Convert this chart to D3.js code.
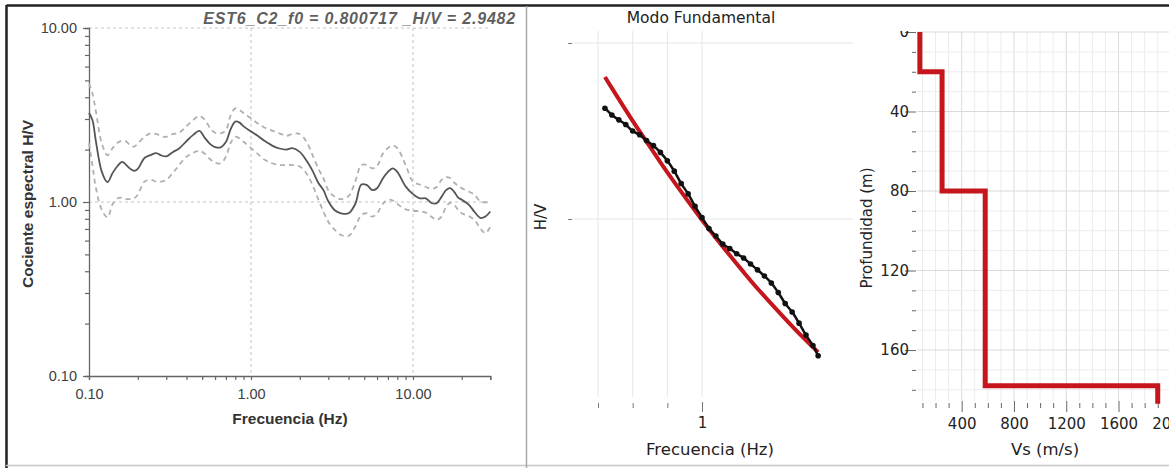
<!DOCTYPE html>
<html>
<head>
<meta charset="utf-8">
<script src="https://cdn.jsdelivr.net/npm/d3@7"></script>
<style>
  html, body { margin: 0; padding: 0; background: #fff; }
  svg { display: block; }
</style>
</head>
<body>
<svg id="chart" width="1169" height="468"></svg>
<script>
// ---- left panel: H/V spectral ratio ----
var hvFreq = [0.10, 0.105, 0.11, 0.12, 0.13, 0.14, 0.15, 0.16, 0.17, 0.18, 0.19, 0.20, 0.22, 0.24, 0.26, 0.28, 0.30, 0.33, 0.36, 0.40,
  0.44, 0.48, 0.52, 0.56, 0.60, 0.65, 0.70, 0.75, 0.80, 0.85, 0.90, 1.0, 1.1, 1.2, 1.35, 1.5, 1.65, 1.8, 2.0, 2.2,
  2.4, 2.6, 2.8, 3.0, 3.3, 3.6, 4.0, 4.4, 4.8, 5.2, 5.6, 6.0, 6.5, 7.0, 7.5, 8.0, 9.0, 10, 11, 12,
  13, 14, 15, 16, 17, 18, 19, 20, 22, 24, 26, 28, 30];
var hvMean = [3.25, 2.96, 2.27, 1.49, 1.30, 1.47, 1.61, 1.70, 1.63, 1.55, 1.51, 1.55, 1.79, 1.86, 1.91, 1.85, 1.83, 1.94, 2.03, 2.24,
  2.43, 2.56, 2.33, 2.15, 2.07, 2.06, 2.21, 2.63, 2.90, 2.86, 2.72, 2.54, 2.40, 2.26, 2.11, 2.03, 2.00, 2.04, 1.94, 1.73,
  1.51, 1.29, 1.17, 1.01, 0.894, 0.861, 0.861, 0.974, 1.26, 1.25, 1.17, 1.20, 1.36, 1.49, 1.56, 1.49, 1.23, 1.11, 1.05, 1.05,
  0.987, 0.985, 1.07, 1.17, 1.20, 1.14, 1.06, 1.03, 0.968, 0.876, 0.81, 0.825, 0.882];
var hvUpper = [4.81, 4.21, 3.38, 2.17, 1.86, 2.04, 2.19, 2.25, 2.22, 2.11, 2.08, 2.17, 2.37, 2.48, 2.46, 2.39, 2.37, 2.46, 2.50, 2.73,
  2.96, 3.12, 2.96, 2.65, 2.50, 2.48, 2.59, 3.16, 3.45, 3.38, 3.24, 3.03, 2.83, 2.69, 2.57, 2.48, 2.40, 2.46, 2.46, 2.22,
  1.86, 1.56, 1.37, 1.17, 1.07, 1.04, 1.08, 1.31, 1.63, 1.63, 1.56, 1.61, 1.89, 2.04, 2.11, 2.04, 1.63, 1.31, 1.26, 1.22,
  1.19, 1.22, 1.34, 1.39, 1.37, 1.29, 1.24, 1.20, 1.15, 1.10, 1.01, 0.996, 1.00];
var hvLower = [2.18, 1.63, 1.22, 0.90, 0.817, 0.974, 1.05, 1.06, 1.04, 1.04, 1.05, 1.10, 1.31, 1.34, 1.31, 1.31, 1.34, 1.47, 1.63, 1.82,
  1.92, 1.97, 1.89, 1.76, 1.68, 1.67, 1.82, 2.19, 2.37, 2.32, 2.22, 2.04, 1.89, 1.76, 1.67, 1.63, 1.63, 1.63, 1.60, 1.46,
  1.25, 1.04, 0.879, 0.771, 0.690, 0.646, 0.638, 0.721, 0.842, 0.861, 0.824, 0.861, 0.974, 1.03, 1.02, 0.974, 0.908, 0.891, 0.884, 0.868,
  0.824, 0.788, 0.824, 0.94, 0.99, 0.96, 0.90, 0.861, 0.831, 0.788, 0.706, 0.661, 0.721];
var hvTicks = [0.1, 1, 10];
var hvTitle = "EST6_C2_f0 = 0.800717 _H/V = 2.9482";

// ---- middle panel: fundamental mode ----
var obsFreq = [0.72, 0.74, 0.76, 0.78, 0.80, 0.82, 0.84, 0.86, 0.88, 0.90, 0.92, 0.94, 0.96, 0.98, 1.00, 1.02,
  1.04, 1.06, 1.08, 1.10, 1.12, 1.14, 1.16, 1.18, 1.20, 1.22, 1.24, 1.26, 1.28, 1.30, 1.32, 1.335];
var obsHV = [4.26, 3.90, 3.66, 3.44, 3.16, 3.01, 2.79, 2.61, 2.39, 2.14, 1.87, 1.59, 1.39, 1.18, 1.02, 0.883,
  0.800, 0.721, 0.680, 0.635, 0.600, 0.555, 0.514, 0.474, 0.433, 0.382, 0.331, 0.296, 0.256, 0.219, 0.191, 0.167];
var fitFreq = [0.72, 0.76, 0.80, 0.84, 0.88, 0.92, 0.96, 1.00, 1.04, 1.08, 1.12, 1.16, 1.20, 1.24, 1.28, 1.32, 1.335];
var fitHV = [6.41, 4.80, 3.61, 2.75, 2.10, 1.62, 1.26, 0.987, 0.780, 0.622, 0.499, 0.403, 0.330, 0.271, 0.224, 0.187, 0.175];
var modeFreqTicks = [0.7, 0.8, 0.9, 1];
var modeHVTicks = [1, 10];

// ---- right panel: Vs profile ----
var layerVs = [80, 250, 580, 1900];
var layerTop = [0, 20, 80, 178];
var depthMax = 187;
var depthTicks = d3.range(0, 181, 10);
var vsTicks = d3.range(100, 2101, 100);

var svg = d3.select('#chart');
var red = '#c4161c';

// frame
svg.append('line').attr('x1', 6.5).attr('x2', 1169).attr('y1', 5.5).attr('y2', 5.5)
  .attr('stroke', '#222').attr('stroke-width', 2.5);
svg.append('line').attr('x1', 6.5).attr('x2', 6.5).attr('y1', 5).attr('y2', 468)
  .attr('stroke', '#222').attr('stroke-width', 2.5);
svg.append('line').attr('x1', 6).attr('x2', 1169).attr('y1', 465.5).attr('y2', 465.5)
  .attr('stroke', '#c8c8c8').attr('stroke-width', 1.5);
svg.append('line').attr('x1', 526.5).attr('x2', 526.5).attr('y1', 6).attr('y2', 468)
  .attr('stroke', '#a8a8a8').attr('stroke-width', 1.5);

// ================= left =================
var xL = d3.scaleLog().domain([0.1, 30]).range([89, 490.3]);
var yL = d3.scaleLog().domain([0.1, 10]).range([376, 28]);
var left = svg.append('g');
var font1 = 'Liberation Sans, Arial, sans-serif';

var gridColor = '#c4c4c4';
[1, 10].forEach(function (d) {
  left.append('line').attr('x1', xL(d)).attr('x2', xL(d)).attr('y1', yL(10)).attr('y2', yL(0.1))
    .attr('stroke', gridColor).attr('stroke-dasharray', '3,3');
  left.append('line').attr('x1', xL(0.1)).attr('x2', xL(30)).attr('y1', yL(d)).attr('y2', yL(d))
    .attr('stroke', gridColor).attr('stroke-dasharray', '3,3');
});

var minorL = [];
[0.1, 1].forEach(function (b) { for (var k = 1; k <= 9; k++) minorL.push(b * k); });
minorL.push(10);
var minorX = minorL.concat([20, 30]);

var yAxisL = left.append('g').attr('transform', 'translate(89,0)')
  .call(d3.axisLeft(yL).tickValues(minorL).tickSize(4).tickPadding(8)
    .tickFormat(function (d) { return hvTicks.indexOf(d) >= 0 ? d.toFixed(2) : ''; }));
var xAxisL = left.append('g').attr('transform', 'translate(0,376)')
  .call(d3.axisBottom(xL).tickValues(minorX).tickSize(4).tickPadding(9)
    .tickFormat(function (d) { return hvTicks.indexOf(d) >= 0 ? d.toFixed(2) : ''; }));
[yAxisL, xAxisL].forEach(function (g) {
  g.select('.domain').attr('stroke', '#666').attr('stroke-width', 1.3);
  g.selectAll('.tick line').attr('stroke', '#666').attr('stroke-width', 1.2);
  g.selectAll('text').attr('fill', '#404040').style('font-family', font1).style('font-size', '14.5px');
});
yAxisL.selectAll('.tick line').filter(function (d) { return hvTicks.indexOf(d) >= 0; }).attr('x2', -6);

var lineL = d3.line().x(function (d) { return xL(d[0]); }).y(function (d) { return yL(d[1]); }).curve(d3.curveCatmullRom);
function zipL(vals) { return hvFreq.map(function (f, i) { return [f, vals[i]]; }); }
left.append('path').attr('d', lineL(zipL(hvUpper))).attr('fill', 'none')
  .attr('stroke', '#b0b0b0').attr('stroke-width', 1.8).attr('stroke-dasharray', '5,4');
left.append('path').attr('d', lineL(zipL(hvLower))).attr('fill', 'none')
  .attr('stroke', '#b0b0b0').attr('stroke-width', 1.8).attr('stroke-dasharray', '5,4');
left.append('path').attr('d', lineL(zipL(hvMean))).attr('fill', 'none')
  .attr('stroke', '#555').attr('stroke-width', 1.8);

left.append('text').attr('x', 516).attr('y', 24).attr('text-anchor', 'end')
  .style('font-family', font1).style('font-size', '16px').style('letter-spacing', '0.8px')
  .style('font-weight', 'bold').style('font-style', 'italic').attr('fill', '#5f5f5f').text(hvTitle);
left.append('text').attr('x', 290).attr('y', 424).attr('text-anchor', 'middle')
  .style('font-family', font1).style('font-size', '15.5px')
  .style('font-weight', 'bold').attr('fill', '#333').text('Frecuencia (Hz)');
left.append('text').attr('transform', 'translate(33,204) rotate(-90)').attr('text-anchor', 'middle')
  .style('font-family', font1).style('font-size', '15.5px')
  .style('font-weight', 'bold').attr('fill', '#333').text('Cociente espectral H/V');

// ================= middle =================
var xM = d3.scaleLinear().domain([0.7, 1]).range([598, 702]);
var yM = d3.scaleLog().domain([1, 10]).range([219, 43]);
var mid = svg.append('g');
var font2 = 'DejaVu Sans, Verdana, sans-serif';

modeFreqTicks.forEach(function (d) {
  mid.append('line').attr('x1', xM(d)).attr('x2', xM(d)).attr('y1', 31).attr('y2', 397)
    .attr('stroke', '#e6e6e6');
});
modeHVTicks.forEach(function (d) {
  mid.append('line').attr('x1', 572).attr('x2', 853).attr('y1', yM(d)).attr('y2', yM(d))
    .attr('stroke', '#e6e6e6');
});
var yAxisM = mid.append('g').attr('transform', 'translate(572,0)')
  .call(d3.axisLeft(yM).tickValues(modeHVTicks).tickSize(4).tickFormat(''));
var xAxisM = mid.append('g').attr('transform', 'translate(0,403)')
  .call(d3.axisBottom(xM).tickValues(modeFreqTicks).tickSize(5).tickPadding(9)
    .tickFormat(function (d) { return d === 1 ? '1' : ''; }));
[yAxisM, xAxisM].forEach(function (g) {
  g.select('.domain').remove();
  g.selectAll('.tick line').attr('stroke', '#777');
  g.selectAll('text').attr('fill', '#222').style('font-family', font2).style('font-size', '15px');
});
xAxisM.selectAll('.tick line').filter(function (d) { return d === 1; }).attr('y1', -1).attr('y2', 9);

var lineM = d3.line().x(function (d) { return xM(d[0]); }).y(function (d) { return yM(d[1]); }).curve(d3.curveCatmullRom);
var fitPts = fitFreq.map(function (f, i) { return [f, fitHV[i]]; });
var obsPts = obsFreq.map(function (f, i) { return [f, obsHV[i]]; });
mid.append('path').attr('d', lineM(fitPts)).attr('fill', 'none').attr('stroke', red).attr('stroke-width', 4);
mid.append('path').attr('d', lineM(obsPts)).attr('fill', 'none').attr('stroke', '#111').attr('stroke-width', 2.5);
mid.selectAll('.obs').data(obsPts).enter().append('circle').attr('class', 'obs')
  .attr('cx', function (d) { return xM(d[0]); }).attr('cy', function (d) { return yM(d[1]); })
  .attr('r', 2.8).attr('fill', '#111');

mid.append('text').attr('x', 701).attr('y', 23).attr('text-anchor', 'middle')
  .style('font-family', font2).style('font-size', '15.5px').attr('fill', '#222').text('Modo Fundamental');
mid.append('text').attr('x', 710).attr('y', 455).attr('text-anchor', 'middle')
  .style('font-family', font2).style('font-size', '16.5px').attr('fill', '#222').text('Frecuencia (Hz)');
mid.append('text').attr('transform', 'translate(546,217) rotate(-90)').attr('text-anchor', 'middle')
  .style('font-family', font2).style('font-size', '15px').attr('fill', '#222').text('H/V');

// ================= right =================
var xR = d3.scaleLinear().domain([0, 2000]).range([909.4, 1170.8]);
var yR = d3.scaleLinear().domain([0, depthMax]).range([32, 403.7]);
svg.append('clipPath').attr('id', 'clipR').append('rect')
  .attr('x', 850).attr('y', 31).attr('width', 319).attr('height', 437);
var right = svg.append('g').attr('clip-path', 'url(#clipR)');

vsTicks.forEach(function (d) {
  right.append('line').attr('x1', xR(d)).attr('x2', xR(d)).attr('y1', yR(0)).attr('y2', 401)
    .attr('stroke', d % 400 === 0 ? '#dadada' : '#ececec');
});
depthTicks.forEach(function (d) {
  right.append('line').attr('x1', 917).attr('x2', 1169).attr('y1', yR(d)).attr('y2', yR(d))
    .attr('stroke', d % 40 === 0 ? '#dadada' : '#ececec');
});

var yAxisR = right.append('g').attr('transform', 'translate(916,0)')
  .call(d3.axisLeft(yR).tickValues(depthTicks).tickSize(4).tickPadding(3)
    .tickFormat(function (d) { return d % 40 === 0 ? d : ''; }));
var xAxisR = right.append('g').attr('transform', 'translate(0,403)')
  .call(d3.axisBottom(xR).tickValues(vsTicks).tickSize(5).tickPadding(10)
    .tickFormat(function (d) { return d % 400 === 0 ? d : ''; }));
[yAxisR, xAxisR].forEach(function (g) {
  g.select('.domain').remove();
  g.selectAll('.tick line').attr('stroke', '#666');
  g.selectAll('text').attr('fill', '#222').style('font-family', font2).style('font-size', '15px');
});
yAxisR.selectAll('.tick line').filter(function (d) { return d % 40 === 0; }).attr('x2', -11);
xAxisR.selectAll('.tick line').filter(function (d) { return d % 400 === 0; }).attr('y1', -2).attr('y2', 9);

var profile = [];
layerVs.forEach(function (vs, i) {
  var bottom = i < layerTop.length - 1 ? layerTop[i + 1] : depthMax;
  profile.push([vs, layerTop[i]]);
  profile.push([vs, bottom]);
});
right.append('path')
  .attr('d', d3.line().x(function (d) { return xR(d[0]); }).y(function (d) { return yR(d[1]); })(profile))
  .attr('fill', 'none').attr('stroke', red).attr('stroke-width', 5).attr('stroke-linejoin', 'miter');

right.append('text').attr('x', 1045).attr('y', 455).attr('text-anchor', 'middle')
  .style('font-family', font2).style('font-size', '16.5px').attr('fill', '#222').text('Vs (m/s)');
right.append('text').attr('transform', 'translate(872,228) rotate(-90)').attr('text-anchor', 'middle')
  .style('font-family', font2).style('font-size', '15px').attr('fill', '#222').text('Profundidad (m)');
</script>
</body>
</html>
